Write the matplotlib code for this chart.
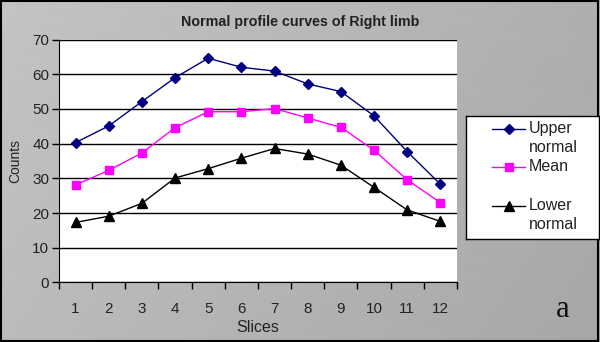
import numpy as np
import matplotlib.pyplot as plt
from matplotlib.patches import Rectangle

plt.rcParams['font.family'] = ['Liberation Sans', 'DejaVu Sans']

# data
slices = list(range(1, 13))
upper_normal = [40.3, 45.1, 52.1, 59.0, 64.6, 62.0, 60.9, 57.2, 55.0, 48.0, 37.7, 28.3]
mean = [28.1, 32.3, 37.3, 44.6, 49.2, 49.2, 50.1, 47.4, 44.7, 38.1, 29.6, 23.0]
lower_normal = [17.3, 19.1, 22.8, 30.1, 32.8, 35.8, 38.6, 37.0, 33.8, 27.4, 20.9, 17.6]
legend_labels = ["Upper\nnormal", "Mean", "Lower\nnormal"]

series = [
    (upper_normal, "#000080", "D", 5),
    (mean, "#ff00ff", "s", 6),
    (lower_normal, "#000000", "^", 6.5),
]

fig = plt.figure(figsize=(6.0, 3.42), dpi=100)

# gray gradient background
bg = fig.add_axes([0, 0, 1, 1], zorder=-10)
gx, gy = np.meshgrid(np.linspace(0, 1, 200), np.linspace(0, 1, 120))
shade = 0.765 - 0.08 * gx - 0.03 * gy
bg.imshow(shade, cmap="gray", vmin=0, vmax=1, aspect="auto", extent=[0, 1, 0, 1])
bg.add_patch(Rectangle((0.002, 0.003), 0.995, 0.993, fill=False, lw=1.5,
                       edgecolor="black", transform=bg.transAxes))
bg.set_axis_off()

ax = fig.add_axes([0.0983, 0.174, 0.6633, 0.7105])
ax.set_facecolor("white")
for vals, col, mk, ms in series:
    ax.plot(slices, vals, color=col, lw=1, marker=mk, markersize=ms,
            markerfacecolor=col, markeredgecolor=col)

ax.set_xlim(0.5, 12.5)
ax.set_ylim(0, 70)
ax.set_yticks(range(0, 71, 10))
ax.yaxis.grid(True, color="black", lw=1)
ax.set_axisbelow(True)
ax.set_xticks(np.arange(0.5, 13, 1))
ax.set_xticklabels([])
ax.set_xticks(slices, minor=True)
ax.set_xticklabels([str(s) for s in slices], minor=True, fontsize=11, color="#222222")
ax.tick_params(axis="x", which="minor", length=0, pad=14)
ax.tick_params(axis="x", which="major", length=5, width=1, direction="out")
ax.tick_params(axis="y", length=5, width=1, pad=2, labelsize=11, labelcolor="#222222")
ax.spines["top"].set_visible(False)
ax.spines["right"].set_visible(False)
ax.set_xlabel("Slices", fontsize=11.5, color="#222222", labelpad=3)
ax.set_ylabel("Counts", fontsize=10, color="#222222", labelpad=7)

fig.text(0.5, 0.936, "Normal profile curves of Right limb", ha="center", va="center",
         fontsize=10.3, fontweight="bold", color="#222222")
fig.text(0.938, 0.095, "a", ha="center", va="center", fontsize=22,
         family="Liberation Serif", color="#111111")

# legend box
lax = fig.add_axes([0.7767, 0.3012, 0.2217, 0.3596])
lax.set_xlim(0, 1)
lax.set_ylim(0, 1)
lax.set_xticks([])
lax.set_yticks([])
for s in lax.spines.values():
    s.set_linewidth(1)
rows = [0.897, 0.588, 0.272]
for (vals, col, mk, ms), lab, ry in zip(series, legend_labels, rows):
    lax.plot([0.195, 0.444], [ry, ry], color=col, lw=1)
    lax.plot([0.32], [ry], marker=mk, markersize=ms, color=col)
    for k, line in enumerate(lab.split("\n")):
        lax.text(0.474, ry - k * 0.155, line, ha="left", va="center",
                 fontsize=11.5, color="#222222")

fig.savefig("out.png", dpi=100)
